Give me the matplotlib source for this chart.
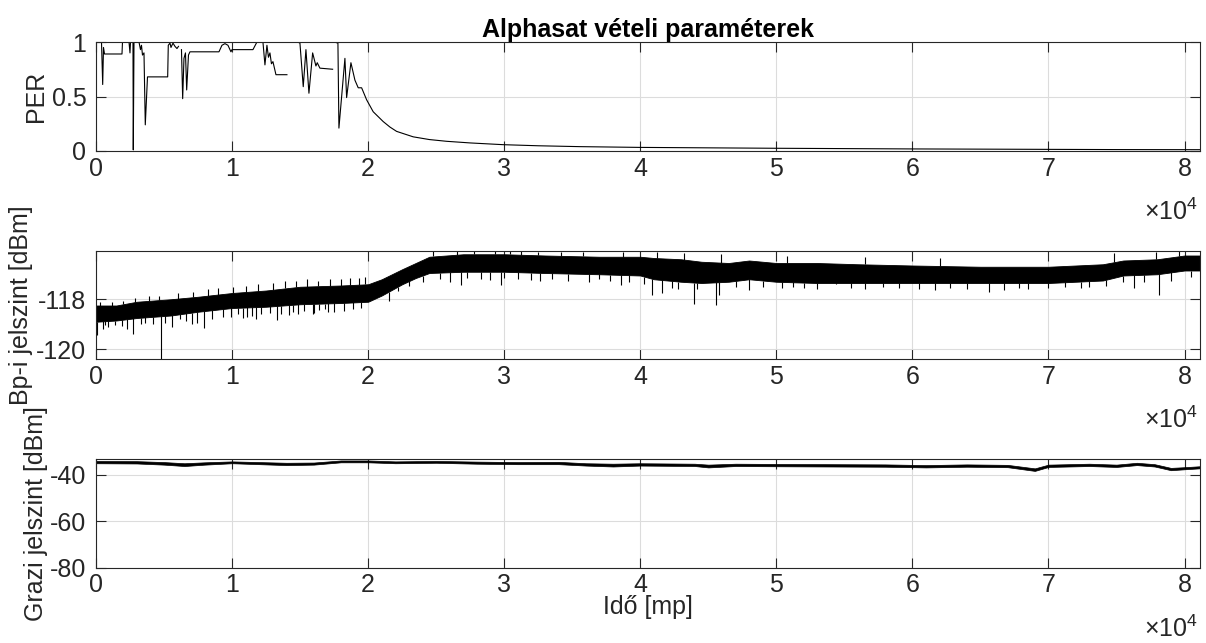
import numpy as np
import matplotlib
matplotlib.use("Agg")
import matplotlib.pyplot as plt

plt.rcParams['font.family'] = ['Liberation Sans', 'DejaVu Sans']
plt.rcParams['mathtext.fontset'] = 'custom'
plt.rcParams['mathtext.rm'] = 'Liberation Sans'
plt.rcParams['mathtext.it'] = 'Liberation Sans'

# ---------------- data ----------------
xticks = [0, 10000, 20000, 30000, 40000, 50000, 60000, 70000, 80000]
xtick_labels = ['0', '1', '2', '3', '4', '5', '6', '7', '8']
x_max = 81100

# PER (NaN = gap in the recording)
per_t = [0, 404, 492, 551, 625, 1910, 1947, 2425, 2498, 2535, 2718, 2740, 2792,
         3159, 3269, 3343, 3416, 3527, 3622, 3784, 5268, 5312, 5437, 5510, 5657,
         5804, 5951, 6061, 6170,
         6282, 6370, 6465, 6576, 6664, 6796, 6906, 9037, 9257, 9478, 9698, 9918,
         9992, 11535, 11829, 12269, 12416, 12563, 12674, 12784, 12894, 13004,
         13225, 14033, 14400,
         14819, 14988, 15231, 15429, 15649, 15921, 16163, 16259, 16457, 17390, 17450,
         17508, 17780, 17853, 18294, 18419, 18735, 19029, 19271, 19521, 19888,
         20373, 21108, 21600, 22092, 22700, 23312, 24500, 25766, 27500, 29924,
         32500, 35560, 40000, 45000, 50000, 55000, 60000, 65000, 70000, 75000,
         81100]
per_v = [1.0, 1.0, 0.61, 0.95, 0.89, 0.89, 1.0, 1.0, 0.90, 1.0, 1.0, 0.01, 1.0,
         1.0, 0.93, 0.97, 0.88, 0.90, 0.24, 0.68, 0.68, 0.97, 0.99, 0.95, 0.99,
         0.96, 0.94, 0.96, np.nan,
         0.93, 0.48, 0.85, 0.90, 0.56, 0.88, 0.91, 0.91, 0.97, 0.985, 0.97, 0.91,
         0.93, 0.93, 1.0, 1.0, 0.79, 0.97, 0.86, 0.90, 0.80, 0.82,
         0.70, 0.70, np.nan,
         1.0, 0.99, 0.59, 0.93, 0.53, 0.90, 0.78, 0.81, 0.76, 0.75, np.nan,
         1.0, 0.99, 0.21, 0.85, 0.49, 0.81, 0.65, 0.58, 0.58, 0.47,
         0.36, 0.27, 0.22, 0.18, 0.155, 0.13, 0.105, 0.089, 0.074, 0.058,
         0.048, 0.040, 0.033, 0.029, 0.025, 0.022, 0.019, 0.017, 0.015, 0.013,
         0.012]

# Bp-i signal level: band envelope [dBm]
bp_t = [0, 1500, 3000, 5500, 7500, 10000, 12500, 15000, 18000, 20000, 21000,
        22500, 23500, 24500, 27000, 30000, 33000, 37000, 40000, 41000, 43000,
        44500, 46500, 48000, 50000, 53000, 56000, 60000, 65000, 70000, 74000,
        75500, 78000, 80000, 81100]
bp_upper = [-118.25, -118.25, -118.1, -118.0, -117.9, -117.75, -117.65, -117.5,
            -117.45, -117.4, -117.2, -116.8, -116.55, -116.3, -116.2, -116.2,
            -116.25, -116.3, -116.3, -116.35, -116.4, -116.5, -116.55, -116.45,
            -116.55, -116.55, -116.6, -116.65, -116.7, -116.7, -116.6, -116.45,
            -116.4, -116.25, -116.25]
bp_lower = [-118.9, -118.85, -118.75, -118.65, -118.5, -118.35, -118.3, -118.2,
            -118.15, -118.1, -117.85, -117.4, -117.15, -116.95, -116.9, -116.9,
            -116.95, -117.0, -117.05, -117.2, -117.3, -117.35, -117.3, -117.2,
            -117.3, -117.35, -117.35, -117.35, -117.35, -117.35, -117.25, -117.05,
            -117.0, -116.85, -116.85]
# long downward spikes
bp_spike_t = [100, 664, 1400, 2755, 3300, 4800, 5580, 6200, 7060, 7920, 9890,
              11120, 11730, 13280, 14190, 14810, 15920, 16400, 17030, 26860,
              28950, 29760, 31980, 38550, 40885, 41620, 43960, 45560, 45800,
              48020, 51220, 54410, 57860, 61670, 65610, 66720, 72380, 76310,
              78160]
bp_spike_v = [-119.43, -119.03, -119.03, -119.4, -119.0, -120.5, -119.1, -118.8,
              -119.0, -119.16, -118.7, -118.7, -118.8, -118.83, -118.63, -118.6,
              -118.6, -118.43, -118.5, -117.43, -117.23, -117.43, -117.23,
              -117.43, -117.83, -117.76, -118.2, -118.23, -117.83, -117.63,
              -117.5, -117.4, -117.5, -117.63, -117.7, -117.63, -117.56,
              -117.56, -117.83]
# short downward hairs
bp_hair_t = [500, 900, 1900, 2300, 3600, 4200, 5100, 6600, 7400, 8500, 9300,
             10400, 10800, 11500, 12100, 12800, 13600, 14500, 15300, 16000,
             16800, 17500, 18200, 18900, 19500, 21500, 22200, 23000, 24000,
             25300, 26000, 27300, 28300, 30000, 31000, 32600, 33500, 34700,
             36200, 37000, 37800, 39200, 40300, 42300, 42800, 44200, 47000,
             49000, 50400, 52000, 53000, 55500, 56500, 59000, 60500, 62800,
             64000, 67800, 68500, 70000, 71200, 73000, 74200, 75500, 77000,
             79000, 80500]
bp_hair_v = [-119.2, -119.1, -119.05, -119.2, -118.95, -119.0, -118.95, -118.85,
             -118.95, -118.8, -118.7, -118.6, -118.75, -118.65, -118.6, -118.55,
             -118.6, -118.5, -118.45, -118.55, -118.4, -118.5, -118.45, -118.4,
             -118.35, -118.05, -117.65, -117.45, -117.3, -117.2, -117.3, -117.15,
             -117.2, -117.15, -117.2, -117.25, -117.2, -117.25, -117.3, -117.2,
             -117.25, -117.3, -117.4, -117.55, -117.6, -117.6, -117.5, -117.5,
             -117.55, -117.55, -117.6, -117.55, -117.6, -117.55, -117.6, -117.55,
             -117.6, -117.55, -117.6, -117.55, -117.5, -117.5, -117.45, -117.3,
             -117.3, -117.25, -117.1]
# upward spikes / hairs
bp_up_t = [300, 1200, 2000, 2900, 3900, 4600, 6000, 7100, 8200, 9000, 10100,
           11000, 11900, 13000, 13900, 14700, 15500, 16300, 17200, 18000, 18700,
           19300, 19800, 24800, 26500, 27800, 29300, 30400, 31200, 32500, 34200,
           35800, 38700, 41200, 43200, 45900, 50800, 56500, 62000, 74800, 77900,
           79600]
bp_up_v = [-118.1, -118.1, -118.05, -117.95, -117.85, -117.85, -117.75, -117.7,
           -117.6, -117.55, -117.5, -117.45, -117.4, -117.35, -117.25, -117.25,
           -117.2, -117.25, -117.2, -117.2, -117.15, -117.15, -117.1, -116.05,
           -116.05, -116.05, -116.05, -116.05, -116.05, -116.1, -116.1, -116.1,
           -116.1, -116.1, -116.15, -116.2, -116.25, -116.3, -116.35, -116.15,
           -116.1, -116.05]

# Grazi signal level: band envelope [dBm]
gr_t = [0, 3000, 5000, 6500, 8000, 10000, 12000, 14000, 16000, 18000, 20000,
        22000, 25000, 28000, 31000, 34000, 36000, 38000, 40000, 44000, 45000,
        47000, 50000, 54000, 58000, 61000, 64000, 67000, 69000, 70000, 73000,
        75000, 76500, 77800, 79000, 80000, 81100]
gr_upper = [-34.0, -34.1, -34.5, -35.0, -34.6, -34.2, -34.5, -34.8, -34.7, -33.8,
            -33.8, -34.2, -34.0, -34.3, -34.5, -34.4, -35.0, -35.2, -35.0, -35.2,
            -35.6, -35.2, -35.3, -35.4, -35.5, -35.8, -35.5, -35.7, -37.2, -35.6,
            -35.2, -35.6, -34.8, -35.4, -37.0, -36.7, -36.3]
gr_lower = [-35.0, -35.1, -35.6, -36.2, -35.6, -35.0, -35.4, -35.8, -35.6, -34.6,
            -34.6, -35.0, -34.8, -35.2, -35.4, -35.4, -36.0, -36.4, -36.0, -36.2,
            -36.8, -36.2, -36.3, -36.4, -36.5, -36.8, -36.5, -36.7, -38.3, -36.6,
            -36.2, -36.6, -35.8, -36.4, -38.0, -37.6, -37.2]

title = 'Alphasat vételi paraméterek'

# ---------------- figure ----------------
W, H = 1206, 643
fig = plt.figure(figsize=(W / 100, H / 100), dpi=100)

axc = '#262626'
left = 96 / W
width = 1103.5 / W
ax1 = fig.add_axes([left, 1 - 151 / H, width, 109 / H])
ax2 = fig.add_axes([left, 1 - 359 / H, width, 108 / H])
ax3 = fig.add_axes([left, 1 - 567.7 / H, width, 108.4 / H])

FS = 18
for ax in (ax1, ax2, ax3):
    ax.set_xlim(0, x_max)
    ax.set_xticks(xticks)
    ax.set_xticklabels(xtick_labels)
    ax.grid(True, color='#dcdcdc', linewidth=0.8)
    ax.set_axisbelow(True)
    ax.tick_params(axis='both', which='both', direction='in', top=True,
                   right=True, length=7, width=0.8, colors=axc,
                   labelsize=FS, labelcolor=axc)
    ax.tick_params(axis='x', pad=4)
    ax.tick_params(axis='y', pad=7)
    for s in ax.spines.values():
        s.set_color(axc)
        s.set_linewidth(0.8)
    ax.annotate(r'$\times10^{4}$', xy=(1, 0), xycoords='axes fraction',
                xytext=(-1, -50), textcoords='offset points',
                ha='right', va='baseline', fontsize=FS, color=axc)

# PER
ax1.plot(per_t, per_v, color='black', linewidth=0.8)
ax1.set_ylim(0, 1)
ax1.set_yticks([0, 0.5, 1])
ax1.set_yticklabels(['0', '0.5', '1'])
ax1.set_ylabel('PER', fontsize=FS, color=axc)
ax1.yaxis.set_label_coords(-0.0435, 0.5)
ax1.set_title(title, fontsize=FS, fontweight='bold', color='black', pad=3)

# Bp
ax2.fill_between(bp_t, bp_lower, bp_upper, color='black', linewidth=0.6)
ax2.vlines(bp_spike_t, bp_spike_v, np.interp(bp_spike_t, bp_t, bp_lower),
           color='black', linewidth=0.8)
ax2.vlines(bp_hair_t, bp_hair_v, np.interp(bp_hair_t, bp_t, bp_lower),
           color='black', linewidth=0.8)
ax2.vlines(bp_up_t, np.interp(bp_up_t, bp_t, bp_upper), bp_up_v,
           color='black', linewidth=0.8)
ax2.set_ylim(-120.39, -116.07)
ax2.set_yticks([-120, -118])
ax2.set_yticklabels(['-120', '-118'])
ax2.set_ylabel('Bp-i jelszint [dBm]', fontsize=FS, color=axc)
ax2.yaxis.set_label_coords(-0.0571, 0.5)

# Grazi
ax3.fill_between(gr_t, gr_lower, gr_upper, color='black', linewidth=0.5)
ax3.set_ylim(-80, -33.3)
ax3.set_yticks([-80, -60, -40])
ax3.set_yticklabels(['-80', '-60', '-40'])
ax3.set_ylabel('Grazi jelszint [dBm]', fontsize=FS, color=axc)
ax3.yaxis.set_label_coords(-0.0435, 0.5)
ax3.set_xlabel('Idő [mp]', fontsize=FS, color=axc)
ax3.xaxis.set_label_coords(0.5, -0.255)

fig.savefig('out.png', dpi=100, facecolor='white')
